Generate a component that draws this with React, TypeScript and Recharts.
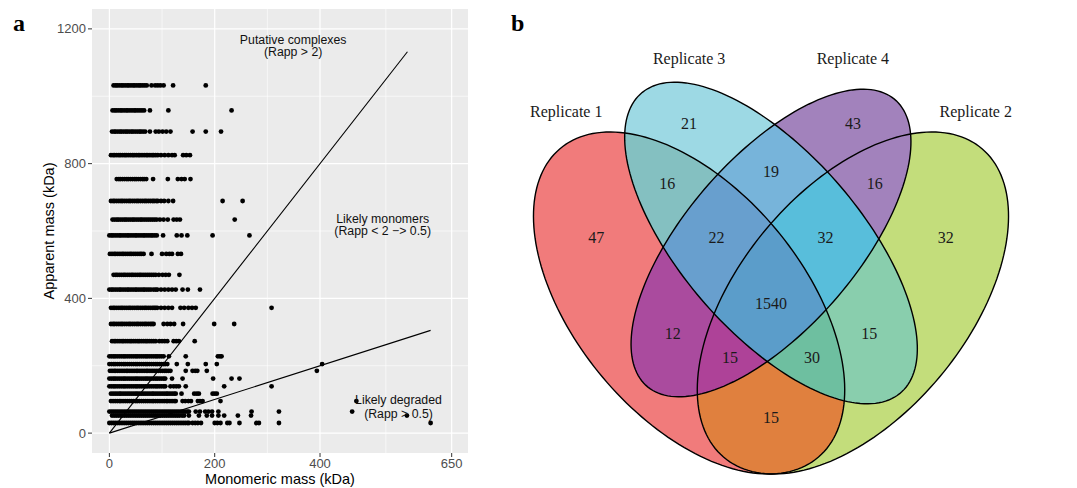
import React from 'react';
import { ScatterChart, Scatter, XAxis, YAxis, CartesianGrid, ReferenceLine } from 'recharts';

const sans = '"Liberation Sans", Arial, sans-serif';
const serif = '"Liberation Serif", "Times New Roman", serif';

// ---------- panel a: apparent vs monomeric mass ----------
// apparent mass rows (kDa) and the monomeric masses read along each row
const apparentLevels = [1032, 958, 895, 825, 754, 689, 634, 587, 532, 470, 426, 372, 324, 273, 228, 205, 185, 162, 139, 117, 95, 64, 52, 30];

const r1032 = [8, 12, 15, 19, 23, 26, 30, 34, 37, 41, 45, 48, 52, 56, 59, 63, 67, 71, 80, 87, 92, 97, 103, 121, 183];
const r958 = [6, 10, 13, 17, 21, 24, 28, 32, 35, 39, 43, 47, 50, 54, 58, 62, 66, 77, 112, 232];
const r895 = [5, 9, 12, 16, 20, 23, 27, 31, 34, 38, 42, 45, 49, 53, 57, 60, 64, 68, 77, 88, 94, 101, 108, 116, 158, 183, 212];
const r825 = [3, 7, 10, 14, 18, 21, 25, 29, 32, 36, 40, 44, 47, 51, 55, 58, 62, 66, 70, 73, 77, 81, 84, 88, 92, 98, 105, 112, 119, 124, 140, 146, 153];
const r754 = [14, 18, 21, 25, 29, 33, 36, 40, 44, 48, 51, 55, 59, 63, 66, 70, 83, 111, 130, 137, 143, 154];
const r689 = [3, 7, 10, 14, 18, 22, 25, 29, 33, 37, 40, 44, 48, 52, 55, 59, 63, 67, 70, 74, 78, 82, 85, 89, 92, 98, 104, 112, 121, 215, 253];
const r634 = [6, 10, 14, 17, 21, 25, 29, 32, 36, 40, 44, 47, 51, 55, 59, 62, 66, 70, 74, 78, 82, 86, 90, 96, 103, 111, 122, 128, 134, 238];
const r587 = [0, 4, 7, 11, 15, 19, 22, 26, 30, 34, 37, 41, 45, 49, 52, 56, 60, 64, 67, 71, 75, 79, 82, 86, 90, 102, 128, 137, 148, 196, 266];
const r532 = [1, 5, 9, 12, 16, 20, 24, 27, 31, 35, 39, 42, 46, 50, 54, 58, 61, 65, 80, 100, 108, 114, 119, 130, 136];
const r470 = [8, 12, 15, 19, 23, 27, 30, 34, 38, 42, 45, 49, 53, 57, 60, 64, 68, 72, 76, 80, 84, 88, 94, 101, 107, 113, 133];
const r426 = [0, 4, 7, 11, 15, 19, 22, 26, 30, 34, 37, 41, 45, 49, 52, 56, 60, 64, 67, 71, 75, 79, 84, 88, 91, 98, 105, 112, 119, 126, 139, 149, 172];
const r372 = [3, 7, 10, 14, 18, 22, 25, 29, 33, 37, 40, 44, 48, 52, 55, 59, 63, 67, 70, 74, 78, 82, 85, 88, 91, 98, 105, 112, 119, 135, 142, 150, 157, 164, 308];
const r324 = [3, 7, 10, 14, 18, 22, 25, 29, 33, 37, 40, 44, 48, 52, 55, 59, 63, 67, 70, 74, 78, 81, 84, 103, 110, 116, 123, 140, 199, 237];
const r273 = [5, 9, 12, 16, 20, 24, 27, 31, 35, 39, 42, 46, 50, 54, 57, 61, 65, 69, 72, 76, 80, 84, 88, 95, 100, 105, 110, 122, 127, 132, 162];
const r228 = [0, 4, 8, 11, 15, 19, 23, 27, 30, 34, 38, 42, 46, 50, 53, 57, 61, 65, 69, 72, 76, 80, 84, 88, 91, 95, 99, 103, 113, 145, 206, 210, 213];
const r205 = [0, 4, 8, 11, 15, 19, 23, 27, 30, 34, 38, 42, 46, 50, 53, 57, 61, 65, 69, 72, 76, 80, 84, 88, 91, 95, 99, 103, 106, 110, 128, 149, 183, 204, 404];
const r185 = [1, 5, 9, 12, 16, 20, 24, 28, 32, 35, 39, 43, 47, 51, 54, 58, 62, 66, 70, 73, 77, 81, 85, 89, 93, 97, 101, 105, 108, 112, 116, 145, 158, 163, 167, 185, 394];
const r162 = [0, 4, 8, 11, 15, 19, 23, 27, 30, 34, 38, 42, 46, 50, 53, 57, 61, 65, 69, 72, 76, 80, 84, 88, 91, 95, 99, 103, 106, 119, 139, 197, 232, 247];
const r139 = [0, 4, 8, 11, 15, 19, 23, 27, 30, 34, 38, 42, 46, 50, 53, 57, 61, 65, 69, 72, 76, 80, 84, 88, 91, 95, 99, 103, 106, 116, 122, 127, 132, 145, 218, 308];
const r117 = [3, 7, 11, 15, 19, 22, 26, 30, 34, 38, 42, 46, 50, 53, 57, 61, 65, 69, 73, 77, 81, 84, 88, 92, 96, 100, 104, 108, 111, 115, 119, 123, 126, 137, 161, 166, 170, 196, 200, 204];
const r95 = [3, 7, 11, 15, 19, 22, 26, 30, 34, 38, 42, 46, 50, 53, 57, 61, 65, 69, 73, 77, 81, 84, 88, 92, 96, 100, 104, 108, 111, 115, 119, 123, 126, 139, 144, 150, 155, 168, 172, 177, 211, 469];
const r64 = [0, 4, 8, 12, 16, 20, 24, 28, 32, 36, 40, 44, 48, 52, 56, 60, 64, 68, 72, 76, 80, 84, 88, 92, 96, 100, 104, 108, 112, 116, 120, 124, 128, 132, 136, 140, 144, 148, 151, 164, 172, 182, 188, 195, 207, 270, 322, 461];
const r52 = [5, 9, 13, 17, 21, 25, 29, 33, 37, 41, 45, 49, 53, 57, 61, 65, 69, 73, 77, 81, 85, 89, 93, 97, 101, 105, 109, 113, 117, 121, 125, 129, 133, 138, 142, 151, 170, 185, 195, 207, 218, 244, 269, 565];
const r30 = [0, 4, 8, 12, 16, 20, 24, 28, 32, 36, 40, 44, 48, 52, 56, 60, 64, 68, 72, 76, 80, 84, 88, 92, 96, 100, 104, 108, 112, 116, 120, 124, 128, 132, 136, 140, 144, 148, 151, 158, 163, 168, 174, 200, 205, 211, 224, 228, 247, 279, 284, 322, 610];

const monomericRows = [r1032, r958, r895, r825, r754, r689, r634, r587, r532, r470, r426, r372, r324, r273, r228, r205, r185, r162, r139, r117, r95, r64, r52, r30];

const massPoints = apparentLevels.flatMap((y, i) => monomericRows[i].map((x) => ({ x, y })));

const xTicks = [0, 200, 400, 650];
const yTicks = [0, 400, 800, 1200];
const xMinor = [100, 300, 525];
const yMinor = [200, 600, 1000];

// Rapp = 2 and Rapp = 0.5 guides
const complexLine = [{ x: 0, y: 0 }, { x: 566, y: 1132 }];
const degradedLine = [{ x: 0, y: 0 }, { x: 610, y: 305 }];

const noteLabels = ['Putative complexes', '(Rapp > 2)', 'Likely monomers', '(Rapp < 2 −> 0.5)', 'Likely degraded', '(Rapp > 0.5)'];
const noteX = [349, 349, 519, 519, 549, 549];
const noteY = [1168, 1130, 636, 599, 99, 56];
const notes = noteLabels.map((label, i) => ({ x: noteX[i], y: noteY[i], label }));

// ---------- panel b: four-set venn ----------
const vennIds = ['r1', 'r2', 'r3', 'r4'];
const vennNames = ['Replicate 1', 'Replicate 2', 'Replicate 3', 'Replicate 4'];
const vennCx = [0.35, 0.65, 0.5, 0.5];
const vennCy = [0.47, 0.47, 0.57, 0.57];
const vennA = [0.35, 0.35, 0.345, 0.33];
const vennB = [0.2, 0.2, 0.157, 0.15];
const vennRot = [135, 45, 135, 45];
const nameX = [0.125, 0.875, 0.35, 0.65];
const nameY = [0.79, 0.79, 0.877, 0.877];

const regionSets = [
  ['r1'], ['r2'], ['r3'], ['r4'],
  ['r1', 'r3'], ['r3', 'r4'], ['r4', 'r2'], ['r1', 'r4'], ['r3', 'r2'], ['r1', 'r2'],
  ['r1', 'r3', 'r4'], ['r3', 'r4', 'r2'], ['r1', 'r4', 'r2'], ['r1', 'r3', 'r2'],
  ['r1', 'r2', 'r3', 'r4'],
];
const regionColors = [
  '#F17B7B', '#C3DD7B', '#9DD9E4', '#A282BC',
  '#84C0C1', '#77B4DA', '#A282BC', '#AA4B9E', '#89CEAD', '#E0803E',
  '#689FCE', '#58BEDB', '#AE4298', '#6EBFA0',
  '#5B9DCA',
];

const countLabels = ['21', '19', '43', '16', '22', '1540', '32', '16', '47', '12', '15', '15', '30', '15', '32'];
const countX = [0.35, 0.5, 0.65, 0.31, 0.4, 0.5, 0.6, 0.69, 0.18, 0.32, 0.425, 0.5, 0.575, 0.68, 0.82];
const countY = [0.77, 0.69, 0.77, 0.67, 0.58, 0.47, 0.58, 0.67, 0.58, 0.42, 0.38, 0.28, 0.38, 0.42, 0.58];

const countPoints = countLabels.map((label, i) => ({ x: countX[i], y: countY[i], label }));
const namePoints = vennNames.map((label, i) => ({ x: nameX[i], y: nameY[i], label }));

// outline of an ellipse as a closed ring, in the venn's own units
const ellipseOutline = (i: number) => {
  const th = (vennRot[i] * Math.PI) / 180;
  const pts = [];
  for (let k = 0; k < 180; k++) {
    const t = (k / 180) * Math.PI * 2;
    const u = vennA[i] * Math.cos(t);
    const v = vennB[i] * Math.sin(t);
    pts.push({ x: vennCx[i] + u * Math.cos(th) - v * Math.sin(th), y: vennCy[i] + u * Math.sin(th) + v * Math.cos(th) });
  }
  return pts;
};
const outlines: Record<string, { x: number; y: number }[]> = {};
vennIds.forEach((id, i) => { outlines[id] = ellipseOutline(i); });

const pathFrom = (pts: any[]) =>
  pts && pts.length ? 'M' + pts.map((p) => `${p.x.toFixed(2)},${p.y.toFixed(2)}`).join('L') + 'Z' : '';

const clipLine = (id: string) => (p: any) => (
  <clipPath id={`venn-${id}`}>
    <path d={pathFrom(p.points)} />
  </clipPath>
);

const regionLine = (sets: string[], color: string) => (p: any) => {
  let el: React.ReactElement = <path d={pathFrom(p.points)} fill={color} stroke="none" />;
  sets.slice(1).forEach((s) => {
    el = <g clipPath={`url(#venn-${s})`}>{el}</g>;
  });
  return el;
};

const outlineLine = (p: any) => <path d={pathFrom(p.points)} fill="none" stroke="#000" strokeWidth={1.4} />;

const Empty = () => <g />;
const Dot = (p: any) => <circle cx={p.cx} cy={p.cy} r={2.4} fill="#000" />;
const NoteText = (p: any) => (
  <text x={p.cx} y={p.cy} textAnchor="middle" dominantBaseline="central" fontSize={12.3} fontFamily={sans} fill="#111">
    {p.payload?.label}
  </text>
);
const VennText = (p: any) => (
  <text x={p.cx} y={p.cy} textAnchor="middle" dominantBaseline="central" fontSize={16} fontFamily={serif} fill="#1a1a1a">
    {p.payload?.label}
  </text>
);

const abs = (left: number, top: number, extra: React.CSSProperties = {}): React.CSSProperties => ({
  position: 'absolute',
  left,
  top,
  whiteSpace: 'nowrap',
  lineHeight: 1,
  ...extra,
});

export default function App() {
  return (
    <div style={{ position: 'fixed', left: 0, top: 0, width: 1077, height: 488, background: '#fff', overflow: 'hidden' }}>
      <div style={{ position: 'absolute', left: 0, top: 0 }}>
        <ScatterChart width={480} height={488} margin={{ top: 9, right: 12, bottom: 0, left: 40 }}>
          <CartesianGrid fill="#EBEBEB" stroke="#fff" strokeWidth={0.6} verticalValues={xMinor} horizontalValues={yMinor} />
          <CartesianGrid stroke="#fff" strokeWidth={1.2} verticalValues={xTicks} horizontalValues={yTicks} />
          <XAxis
            type="number"
            dataKey="x"
            domain={[-33, 681]}
            ticks={xTicks}
            interval={0}
            allowDataOverflow
            height={35}
            axisLine={false}
            tickSize={4}
            tickMargin={2}
            tickLine={{ stroke: '#333' }}
            tick={{ fill: '#4D4D4D', fontSize: 13, fontFamily: sans }}
          />
          <YAxis
            type="number"
            dataKey="y"
            domain={[-59, 1259]}
            ticks={yTicks}
            interval={0}
            allowDataOverflow
            width={52}
            axisLine={false}
            tickSize={4}
            tickMargin={2}
            tickLine={{ stroke: '#333' }}
            tick={{ fill: '#4D4D4D', fontSize: 13, fontFamily: sans }}
          />
          <Scatter data={massPoints} shape={Dot} isAnimationActive={false} />
          <ReferenceLine segment={complexLine} stroke="#000" strokeWidth={1.1} ifOverflow="visible" />
          <ReferenceLine segment={degradedLine} stroke="#000" strokeWidth={1.1} ifOverflow="visible" />
          <Scatter data={notes} shape={NoteText} isAnimationActive={false} />
        </ScatterChart>
      </div>

      <div style={abs(13, 11, { fontFamily: serif, fontWeight: 700, fontSize: 24 })}>a</div>
      <div style={abs(280, 478.5, { fontFamily: sans, fontSize: 14.5, color: '#000', transform: 'translate(-50%, -50%)' })}>
        Monomeric mass (kDa)
      </div>
      <div
        style={abs(48.5, 231, {
          fontFamily: sans,
          fontSize: 14.5,
          color: '#000',
          transform: 'translate(-50%, -50%) rotate(-90deg)',
        })}
      >
        Apparent mass (kDa)
      </div>

      <div style={abs(511, 11, { fontFamily: serif, fontWeight: 700, fontSize: 24 })}>b</div>

      <div style={{ position: 'absolute', left: 498, top: 0 }}>
        <ScatterChart width={579} height={488} margin={{ top: 0, right: 0, bottom: 0, left: 0 }}>
          <XAxis type="number" dataKey="x" domain={[0, 579 / 546]} allowDataOverflow hide />
          <YAxis type="number" dataKey="y" domain={[(585 - 488) / 600, 585 / 600]} allowDataOverflow hide />
          {vennIds.map((id) => (
            <Scatter key={`clip-${id}`} data={outlines[id]} shape={Empty} line={clipLine(id)} isAnimationActive={false} />
          ))}
          {regionSets.map((sets, i) => (
            <Scatter
              key={`region-${i}`}
              data={outlines[sets[0]]}
              shape={Empty}
              line={regionLine(sets, regionColors[i])}
              isAnimationActive={false}
            />
          ))}
          {vennIds.map((id) => (
            <Scatter key={`edge-${id}`} data={outlines[id]} shape={Empty} line={outlineLine} isAnimationActive={false} />
          ))}
          <Scatter data={countPoints} shape={VennText} isAnimationActive={false} />
          <Scatter data={namePoints} shape={VennText} isAnimationActive={false} />
        </ScatterChart>
      </div>
    </div>
  );
}
